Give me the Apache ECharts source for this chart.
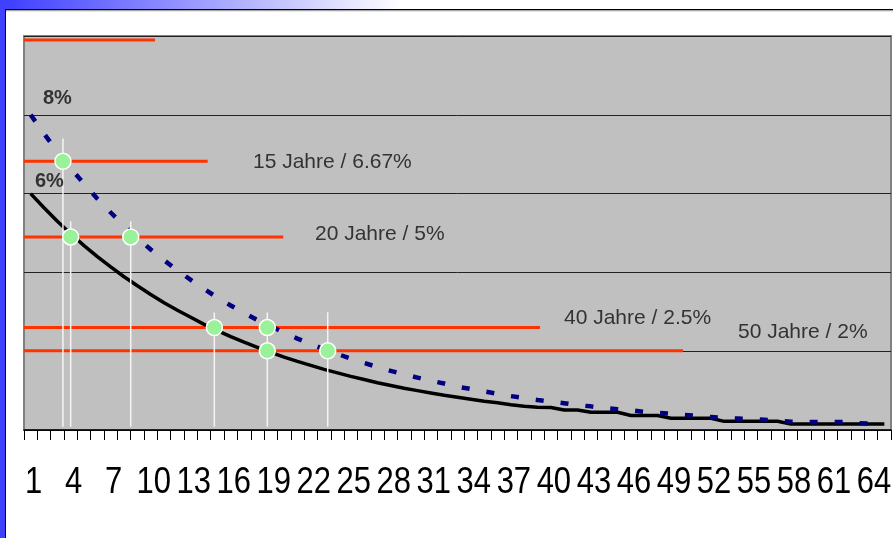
<!DOCTYPE html>
<html><head><meta charset="utf-8">
<script src="https://cdn.jsdelivr.net/npm/echarts@6/dist/echarts.min.js"></script>
<style>html,body{margin:0;padding:0;background:#fff}#c{width:893px;height:538px}</style>
</head><body><div id="c"></div>
<script>
// Jahre (Kategorien)
const categories = [1,2,3,4,5,6,7,8,9,10,11,12,13,14,15,16,17,18,19,20,21,22,23,24,25,26,27,28,29,30,
  31,32,33,34,35,36,37,38,39,40,41,42,43,44,45,46,47,48,49,50,51,52,53,54,55,56,57,58,59,60,
  61,62,63,64,65];
// beschriftete Jahre auf der x-Achse
const tickLabels = [1,4,7,10,13,16,19,22,25,28,31,34,37,40,43,46,49,52,55,58,61,64];
// 6%-Kurve (schwarz, durchgezogen)
const curve6 = [6.00,5.64,5.30,4.98,4.68,4.40,4.14,3.89,3.66,3.44,3.23,3.04,2.86,2.68,2.52,2.37,2.23,2.10,1.97,1.85,
  1.74,1.64,1.54,1.45,1.36,1.28,1.20,1.13,1.06,1.00,0.94,0.88,0.83,0.78,0.73,0.69,0.64,0.60,0.58,0.57,
  0.51,0.51,0.45,0.45,0.45,0.37,0.37,0.37,0.30,0.30,0.30,0.30,0.22,0.22,0.22,0.22,0.22,
  0.15,0.15,0.15,0.15,0.15,0.15,0.15,0.15];
// 8%-Kurve (blau, gestrichelt)
const curve8 = [8.00,7.52,7.07,6.64,6.25,5.87,5.52,5.19,4.88,4.58,4.31,4.05,3.81,3.58,3.36,3.16,2.97,2.79,2.63,2.47,
  2.32,2.18,2.05,1.93,1.81,1.70,1.60,1.50,1.41,1.33,1.25,1.18,1.10,1.04,0.98,0.92,0.86,0.81,0.76,0.72,
  0.68,0.63,0.60,0.56,0.53,0.50,0.46,0.44,0.41,0.38,0.36,0.33,0.30,0.29,0.28,0.26,0.24,0.21,0.20,0.20,
  0.20,0.20,0.17,0.16,0.16];
// lineare Sätze (rote Linien): Höhe und Länge (in Jahren)
const linearRates = [9.90, 6.82, 4.90, 2.60, 2.01];
const linearEnds  = [9.82, 13.77, 19.44, 38.69, 49.41];
// Schnittpunkte (grüne Kreise)
const crossX = [2.92, 3.50, 8.00, 14.27, 18.24, 18.24, 22.77];
const crossY = [6.82, 4.90, 4.90, 2.60, 2.60, 2.01, 2.01];
// senkrechte weiße Linien
const dropX   = [2.92, 3.50, 8.00, 14.27, 18.24, 22.77];
const dropTop = [7.40, 5.29, 5.29, 2.98, 2.98, 2.99];
const dropBottom = 0.08;
// Texte
const curveLabels = ['8%', '6%'];
const rateLabels = ['15 Jahre / 6.67%', '20 Jahre / 5%', '40 Jahre / 2.5%', '50 Jahre / 2%'];

const chart = echarts.init(document.getElementById('c'), null, {renderer: 'canvas'});

const series = [];
linearRates.forEach((v, i) => {
  series.push({
    type: 'line', xAxisIndex: 1, yAxisIndex: 0, silent: true, z: 2,
    data: [[0, v], [linearEnds[i], v]], symbol: 'none',
    lineStyle: {color: '#FF3300', width: 3}
  });
});
series.push({
  name: '6%', type: 'line', xAxisIndex: 0, data: curve6, symbol: 'none', z: 3, silent: true,
  lineStyle: {color: '#000000', width: 3.5}
});
series.push({
  name: '8%', type: 'line', xAxisIndex: 0, data: curve8, symbol: 'none', z: 3, silent: true,
  lineStyle: {color: '#000080', width: 4.5, type: [8, 17]}
});
dropX.forEach((x, i) => {
  series.push({
    type: 'line', xAxisIndex: 1, silent: true, z: 4, symbol: 'none',
    data: [[x, dropTop[i]], [x, dropBottom]],
    lineStyle: {color: '#F4F4F4', width: 1.5}
  });
});
series.push({
  type: 'scatter', xAxisIndex: 1, z: 5, silent: true,
  data: crossX.map((x, i) => [x, crossY[i]]),
  symbolSize: 16,
  itemStyle: {color: '#99F299', borderColor: '#FFFFFF', borderWidth: 1.5, opacity: 1}
});
// x-Achsenbeschriftung (schmal gesetzt) an den Kategorie-Positionen der Achse
series.push({
  type: 'custom', xAxisIndex: 0, yAxisIndex: 0, silent: true, clip: false, z: 10,
  data: tickLabels.map(l => [categories.indexOf(l), 0, String(l)]),
  renderItem: function (params, api) {
    const p = api.coord([api.value(0), 0]);
    return {
      type: 'text', x: p[0] + 3, y: p[1] + 53, scaleX: 0.86,
      style: {text: tickLabels[params.dataIndex] + '', fill: '#000000',
        font: '36px "Liberation Sans", Arial, sans-serif', align: 'center', verticalAlign: 'middle'}
    };
  }
});

const txt = (s, x, y, size, bold) => ({
  type: 'text', x: x, y: y, z: 100, silent: true,
  style: {text: s, fill: '#333333', font: (bold ? 'bold ' : '') + size + 'px "Liberation Sans", Arial, sans-serif',
    verticalAlign: 'middle', align: 'left'}
});

const option = {
  animation: false,
  backgroundColor: '#FFFFFF',
  grid: {left: 24, right: 2, top: 36, height: 394, show: true,
    backgroundColor: '#C0C0C0', borderColor: '#808080', borderWidth: 2},
  xAxis: [{
    type: 'category', data: categories, boundaryGap: true,
    axisLine: {lineStyle: {color: '#000000', width: 1.5}},
    axisTick: {show: true, interval: 0, length: 10, lineStyle: {color: '#000000', width: 1}},
    axisLabel: {show: false, interval: 2},
    splitLine: {show: false}
  }, {
    type: 'value', min: 0, max: 65, show: false
  }],
  yAxis: [{
    type: 'value', min: 0, max: 10, interval: 2,
    axisLabel: {show: false}, axisLine: {show: false}, axisTick: {show: false},
    splitLine: {lineStyle: {color: '#222222', width: 1}}
  }],
  graphic: [
    {type: 'rect', shape: {x: 0, y: 0, width: 893, height: 9}, silent: true, z: 50,
      style: {fill: new echarts.graphic.LinearGradient(0, 0, 1, 0, [
        {offset: 0, color: '#3C3CFF'}, {offset: 0.45, color: '#FFFFFF'}, {offset: 1, color: '#FFFFFF'}])}},
    {type: 'rect', shape: {x: 0, y: 0, width: 5, height: 538}, silent: true, z: 51, style: {fill: '#4040FF'}},
    {type: 'rect', shape: {x: 5, y: 9, width: 888, height: 1.5}, silent: true, z: 51, style: {fill: '#000000'}},
    {type: 'rect', shape: {x: 5, y: 10.5, width: 888, height: 1}, silent: true, z: 51, style: {fill: '#D0D0D0'}},
    {type: 'rect', shape: {x: 5, y: 9, width: 1, height: 529}, silent: true, z: 51, style: {fill: '#000000'}},
    txt(curveLabels[0], 43, 98, 20, true),
    txt(curveLabels[1], 35, 181, 20, true),
    txt(rateLabels[0], 253, 162, 21, false),
    txt(rateLabels[1], 315, 234, 21, false),
    txt(rateLabels[2], 564, 318, 21, false),
    txt(rateLabels[3], 738, 332, 21, false)
  ],
  series: series
};
chart.setOption(option);
</script>
</body></html>
